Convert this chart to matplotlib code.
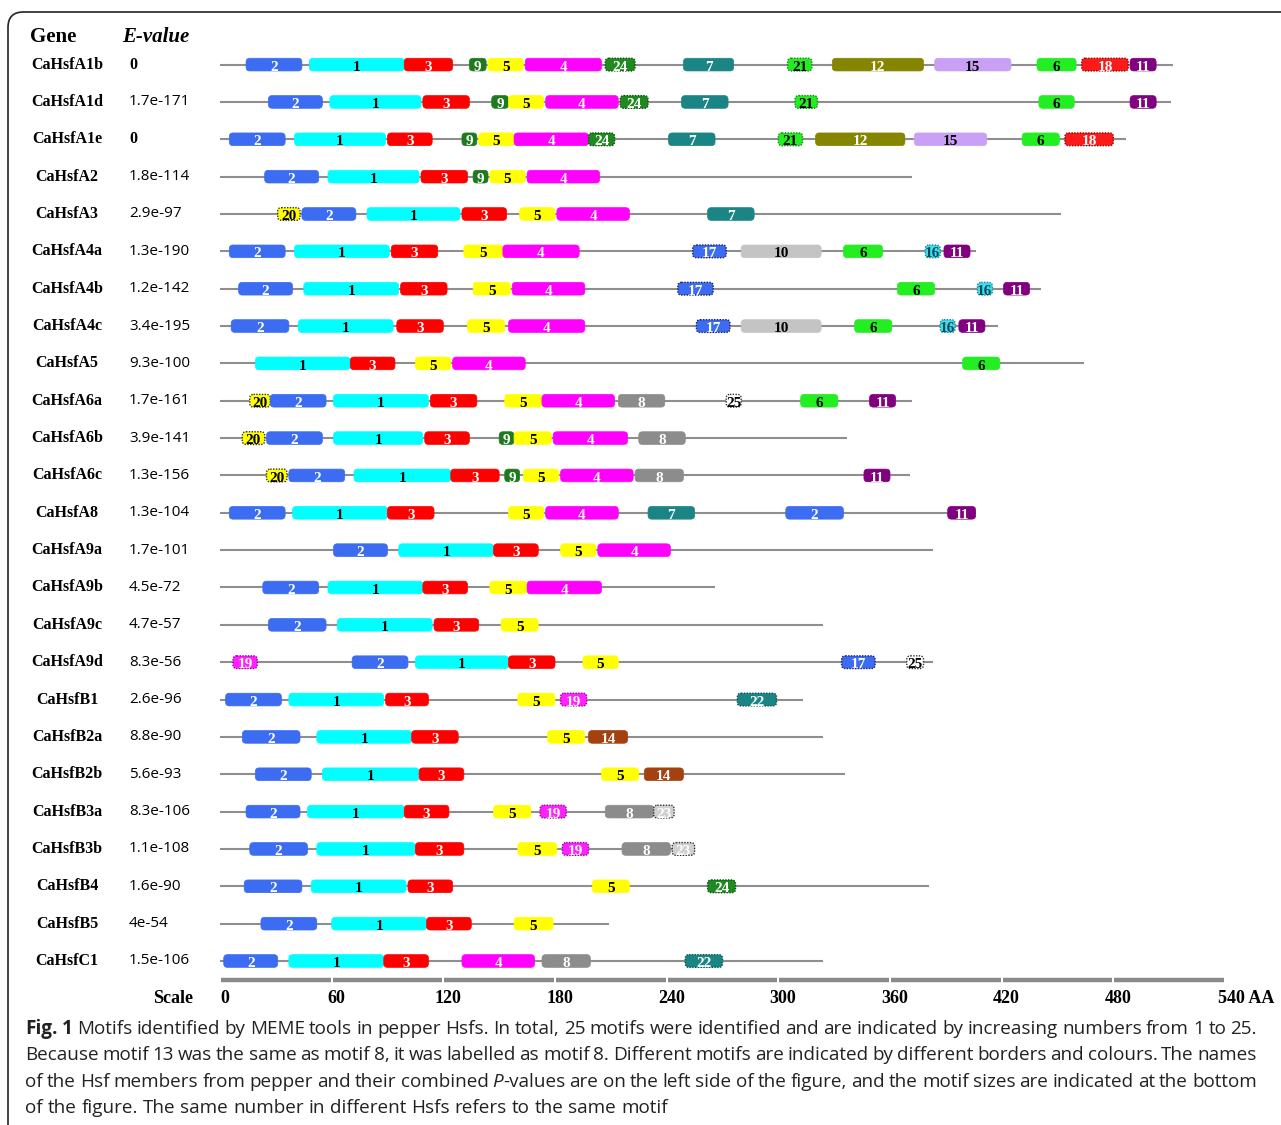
import matplotlib
matplotlib.use('Agg')
import matplotlib.pyplot as plt
from matplotlib.patches import FancyBboxPatch
from matplotlib.transforms import blended_transform_factory

# ---- data (positions in amino acids) ----
genes = ['CaHsfA1b', 'CaHsfA1d', 'CaHsfA1e', 'CaHsfA2', 'CaHsfA3', 'CaHsfA4a', 'CaHsfA4b',
         'CaHsfA4c', 'CaHsfA5', 'CaHsfA6a', 'CaHsfA6b', 'CaHsfA6c', 'CaHsfA8', 'CaHsfA9a',
         'CaHsfA9b', 'CaHsfA9c', 'CaHsfA9d', 'CaHsfB1', 'CaHsfB2a', 'CaHsfB2b', 'CaHsfB3a',
         'CaHsfB3b', 'CaHsfB4', 'CaHsfB5', 'CaHsfC1']
evalues = ['0', '1.7e-171', '0', '1.8e-114', '2.9e-97', '1.3e-190', '1.2e-142', '3.4e-195',
           '9.3e-100', '1.7e-161', '3.9e-141', '1.3e-156', '1.3e-104', '1.7e-101', '4.5e-72',
           '4.7e-57', '8.3e-56', '2.6e-96', '8.8e-90', '5.6e-93', '8.3e-106', '1.1e-108',
           '1.6e-90', '4e-54', '1.5e-106']
lengths = [512, 511, 487, 372, 452, 406, 441, 418, 464, 372, 337, 371, 406, 383,
           266, 324, 383, 313, 324, 336, 244, 255, 381, 209, 324]

# (motif, start, end)
A1b = [(2, 14, 44), (1, 48, 99), (3, 99, 125), (9, 134, 143), (5, 144, 163), (4, 164, 205),
       (24, 207, 223), (7, 249, 276), (21, 305, 318), (12, 329, 378), (15, 384, 425),
       (6, 439, 460), (18, 463, 488), (11, 489, 503)]
A1d = [(2, 26, 55), (1, 59, 108), (3, 109, 134), (9, 146, 155), (5, 155, 174), (4, 175, 214),
       (24, 215, 230), (7, 248, 273), (21, 309, 321), (6, 440, 459), (11, 489, 503)]
A1e = [(2, 5, 35), (1, 40, 89), (3, 90, 114), (9, 130, 138), (5, 139, 158), (4, 158, 198),
       (24, 198, 212), (7, 241, 266), (21, 300, 313), (12, 320, 368), (15, 373, 412),
       (6, 431, 451), (18, 454, 480)]
A2 = [(2, 24, 53), (1, 58, 107), (3, 108, 133), (9, 136, 144), (5, 145, 164), (4, 165, 204)]
A3 = [(20, 31, 43), (2, 44, 73), (1, 79, 129), (3, 130, 154), (5, 161, 180), (4, 181, 220),
      (7, 262, 287)]
A4a = [(2, 5, 35), (1, 40, 91), (3, 92, 117), (5, 131, 152), (4, 152, 193), (17, 254, 272),
       (10, 280, 323), (6, 335, 356), (16, 379, 387), (11, 389, 403)]
A4b = [(2, 10, 39), (1, 45, 96), (3, 97, 122), (5, 136, 156), (4, 157, 196), (17, 246, 265),
       (6, 364, 384), (16, 407, 415), (11, 421, 435)]
A4c = [(2, 6, 37), (1, 42, 93), (3, 95, 120), (5, 133, 153), (4, 155, 196), (17, 256, 274),
       (10, 280, 323), (6, 341, 361), (16, 387, 395), (11, 397, 411)]
A5 = [(1, 19, 70), (3, 70, 94), (5, 105, 124), (4, 125, 164), (6, 399, 419)]
A6a = [(20, 16, 27), (2, 27, 57), (1, 61, 112), (3, 113, 138), (5, 153, 173), (4, 173, 212),
       (8, 214, 239), (25, 272, 280), (6, 312, 332), (11, 349, 363)]
A6b = [(20, 12, 24), (2, 25, 55), (1, 61, 109), (3, 110, 134), (9, 150, 158), (5, 158, 178),
       (4, 179, 219), (8, 225, 250)]
A6c = [(20, 25, 36), (2, 37, 67), (1, 72, 124), (3, 124, 150), (9, 153, 161), (5, 163, 182),
       (4, 183, 222), (8, 223, 249), (11, 346, 360)]
A8 = [(2, 5, 35), (1, 39, 90), (3, 90, 115), (5, 155, 174), (4, 175, 214), (7, 230, 255),
      (2, 304, 335), (11, 391, 406)]
A9a = [(2, 61, 90), (1, 96, 147), (3, 147, 171), (5, 183, 202), (4, 203, 242)]
A9b = [(2, 23, 53), (1, 58, 109), (3, 109, 133), (5, 145, 165), (4, 165, 205)]
A9c = [(2, 26, 57), (1, 63, 114), (3, 115, 139), (5, 151, 171)]
A9d = [(19, 7, 20), (2, 71, 101), (1, 105, 155), (3, 155, 180), (5, 195, 214), (17, 334, 352),
       (25, 369, 378)]
B1 = [(2, 3, 33), (1, 37, 88), (3, 89, 112), (5, 160, 180), (19, 183, 197), (22, 278, 299)]
B2a = [(2, 12, 43), (1, 52, 103), (3, 103, 128), (5, 176, 196), (14, 198, 219)]
B2b = [(2, 19, 49), (1, 55, 107), (3, 107, 131), (5, 205, 225), (14, 228, 249)]
B3a = [(2, 14, 43), (1, 47, 99), (3, 99, 123), (5, 147, 167), (19, 172, 186), (8, 207, 233),
       (23, 233, 244)]
B3b = [(2, 16, 47), (1, 52, 105), (3, 105, 131), (5, 160, 181), (19, 184, 198), (8, 216, 242),
       (23, 243, 255)]
B4 = [(2, 13, 44), (1, 49, 100), (3, 101, 125), (5, 200, 220), (24, 262, 277)]
B5 = [(2, 22, 52), (1, 60, 111), (3, 111, 135), (5, 158, 179)]
C1 = [(2, 2, 31), (1, 37, 88), (3, 88, 112), (4, 130, 169), (8, 173, 199), (22, 250, 270)]

sites = [A1b, A1d, A1e, A2, A3, A4a, A4b, A4c, A5, A6a, A6b, A6c, A8, A9a, A9b, A9c, A9d,
         B1, B2a, B2b, B3a, B3b, B4, B5, C1]

scale_ticks = [0, 60, 120, 180, 240, 300, 360, 420, 480, 540]

# motif -> (fill, text colour, border colour or None for solid)
motif_style = {
    1: ('#00ffff', 'black', None), 2: ('#3b6cf2', 'white', None),
    3: ('#ff0000', 'white', None), 4: ('#ff00ff', 'white', None),
    5: ('#ffff00', 'black', None), 6: ('#22ee22', 'black', None),
    7: ('#1b8585', 'white', None), 8: ('#8c8c8c', 'white', None),
    9: ('#1f7a1f', 'white', None), 10: ('#c4c4c4', 'black', None),
    11: ('#800080', 'white', None), 12: ('#858500', 'white', None),
    14: ('#a5400f', 'white', None), 15: ('#c9a0f5', 'black', None),
    16: ('#40dcec', '#0a4a5a', '#1a8a9a'), 17: ('#3b6cf2', 'white', '#202060'),
    18: ('#ff1a1a', 'white', '#990000'), 19: ('#ff22ff', 'white', '#990099'),
    20: ('#ffff00', 'black', '#333333'), 21: ('#22ee22', 'black', '#118811'),
    22: ('#1b8585', 'white', '#0b4f4f'), 23: ('#d0d0d0', 'white', '#333333'),
    24: ('#1f8a1f', 'white', '#0b4f0b'), 25: ('#ffffff', 'black', '#333333'),
}

W, H = 1281, 1125
fig = plt.figure(figsize=(W / 100, H / 100), dpi=100)
fig.patch.set_facecolor('white')

row0, row_h = 64.6, 37.35
x0_px, x540_px = 220, 1225
ax = fig.add_axes([x0_px / W, 1 - (row0 + 25.5 * row_h) / H,
                   (x540_px - x0_px) / W, 26.5 * row_h / H])
ax.set_xlim(0, 540)
ax.set_ylim(25.5, -1)
ax.axis('off')

px_aa = (x540_px - x0_px) / 540
aspect = px_aa / row_h
box_h = 0.34
serif = 'Liberation Serif'

for i, (L, motifs) in enumerate(zip(lengths, sites)):
    ax.plot([0, L], [i, i], color='#8e8e8e', lw=1.5, zorder=1, solid_capstyle='butt')
    for m, s, e in motifs:
        fc, tc, border = motif_style[m]
        if border:
            ec, ls, lw = border, (0, (1, 1)), 1.0
        else:
            ec, ls, lw = fc, '-', 0.5
        box = FancyBboxPatch((s, i - box_h / 2), e - s, box_h,
                             boxstyle='round,pad=0,rounding_size=2', mutation_aspect=aspect,
                             facecolor=fc, edgecolor=ec, linestyle=ls, linewidth=lw, zorder=2)
        ax.add_patch(box)
        ax.text((s + e) / 2, i + 0.07, str(m), ha='center', va='center', color=tc,
                fontfamily=serif, fontweight='bold', fontsize=11, zorder=3)

# left labels
lab_tr = blended_transform_factory(fig.transFigure, ax.transData)
for i, (gene, ev) in enumerate(zip(genes, evalues)):
    ax.text(67 / W, i, gene, transform=lab_tr, ha='center', va='center',
            fontfamily=serif, fontweight='bold', fontsize=11.5)
    if ev == '0':
        ax.text(129 / W, i, ev, transform=lab_tr, ha='left', va='center',
                fontfamily=serif, fontweight='bold', fontsize=11.5)
    else:
        ax.text(129 / W, i, ev, transform=lab_tr, ha='left', va='center',
                fontfamily='Open Sans', fontsize=11)

fig.text(30 / W, 1 - 37 / H, 'Gene', ha='left', va='center', fontfamily=serif,
         fontweight='bold', fontsize=15)
fig.text(122 / W, 1 - 37 / H, 'E-value', ha='left', va='center', fontfamily=serif,
         fontweight='bold', fontstyle='italic', fontsize=15)

# scale bar
for a, b in zip(scale_ticks[:-1], scale_ticks[1:]):
    ax.plot([a + 0.6, b - 0.6], [24.5, 24.5], color='#8a8a8a', lw=3.2, solid_capstyle='butt')
for t in scale_ticks[:-1]:
    ax.text(t + 2.5, 25.0, str(t), ha='center', va='center', fontfamily=serif,
            fontweight='bold', fontsize=13)
ax.text(scale_ticks[-1] - 4, 25.0, f'{scale_ticks[-1]} AA', ha='left', va='center',
        fontfamily=serif, fontweight='bold', fontsize=13)
ax.text(193 / W, 25.0, 'Scale', transform=lab_tr, ha='right', va='center',
        fontfamily=serif, fontweight='bold', fontsize=13)

# frame around figure + caption
frame = FancyBboxPatch((8 / W, -30 / H), (W + 40) / W, (H - 12 + 30) / H,
                       boxstyle='round,pad=0,rounding_size=0.012', mutation_aspect=W / H,
                       transform=fig.transFigure, facecolor='none', edgecolor='#222222',
                       linewidth=1.2)
fig.add_artist(frame)

# caption, justified
cap_lines = [
    "**Fig.** **1** Motifs identified by MEME tools in pepper Hsfs. In total, 25 motifs were identified and are indicated by increasing numbers from 1 to 25.",
    "Because motif 13 was the same as motif 8, it was labelled as motif 8. Different motifs are indicated by different borders and colours. The names",
    "of the Hsf members from pepper and their combined *P*-values are on the left side of the figure, and the motif sizes are indicated at the bottom",
    "of the figure. The same number in different Hsfs refers to the same motif",
]
cap_y = [1029, 1055, 1082, 1108]
cap_size = 13.6
cap_left, cap_right = 25, 1257
renderer = fig.canvas.get_renderer()


def word_pieces(w):
    if w.startswith('**'):
        return [(w.strip('*'), 'bold')]
    if w.startswith('*P*'):
        return [('P', 'italic'), (w[3:], 'normal')]
    return [(w, 'normal')]


for k, (line, yp) in enumerate(zip(cap_lines, cap_y)):
    groups = []
    for w in line.split(' '):
        objs = []
        for txt, st in word_pieces(w):
            t = fig.text(0, 1 - yp / H, txt, ha='left', va='center', fontfamily='Open Sans',
                         fontsize=cap_size, color='#222222',
                         fontweight='bold' if st == 'bold' else 'normal',
                         fontstyle='italic' if st == 'italic' else 'normal')
            objs.append(t)
        groups.append(objs)
    widths = [[o.get_window_extent(renderer).width for o in g] for g in groups]
    total = sum(sum(ws) for ws in widths)
    space = 0.26 * cap_size * 100 / 72
    if k < len(cap_lines) - 1:
        gap = (cap_right - cap_left - total) / (len(groups) - 1)
    else:
        gap = space
    x = cap_left
    for g, ws in zip(groups, widths):
        for o, wd in zip(g, ws):
            o.set_x(x / W)
            x += wd
        x += gap

fig.savefig('out.png', dpi=100, facecolor='white')
